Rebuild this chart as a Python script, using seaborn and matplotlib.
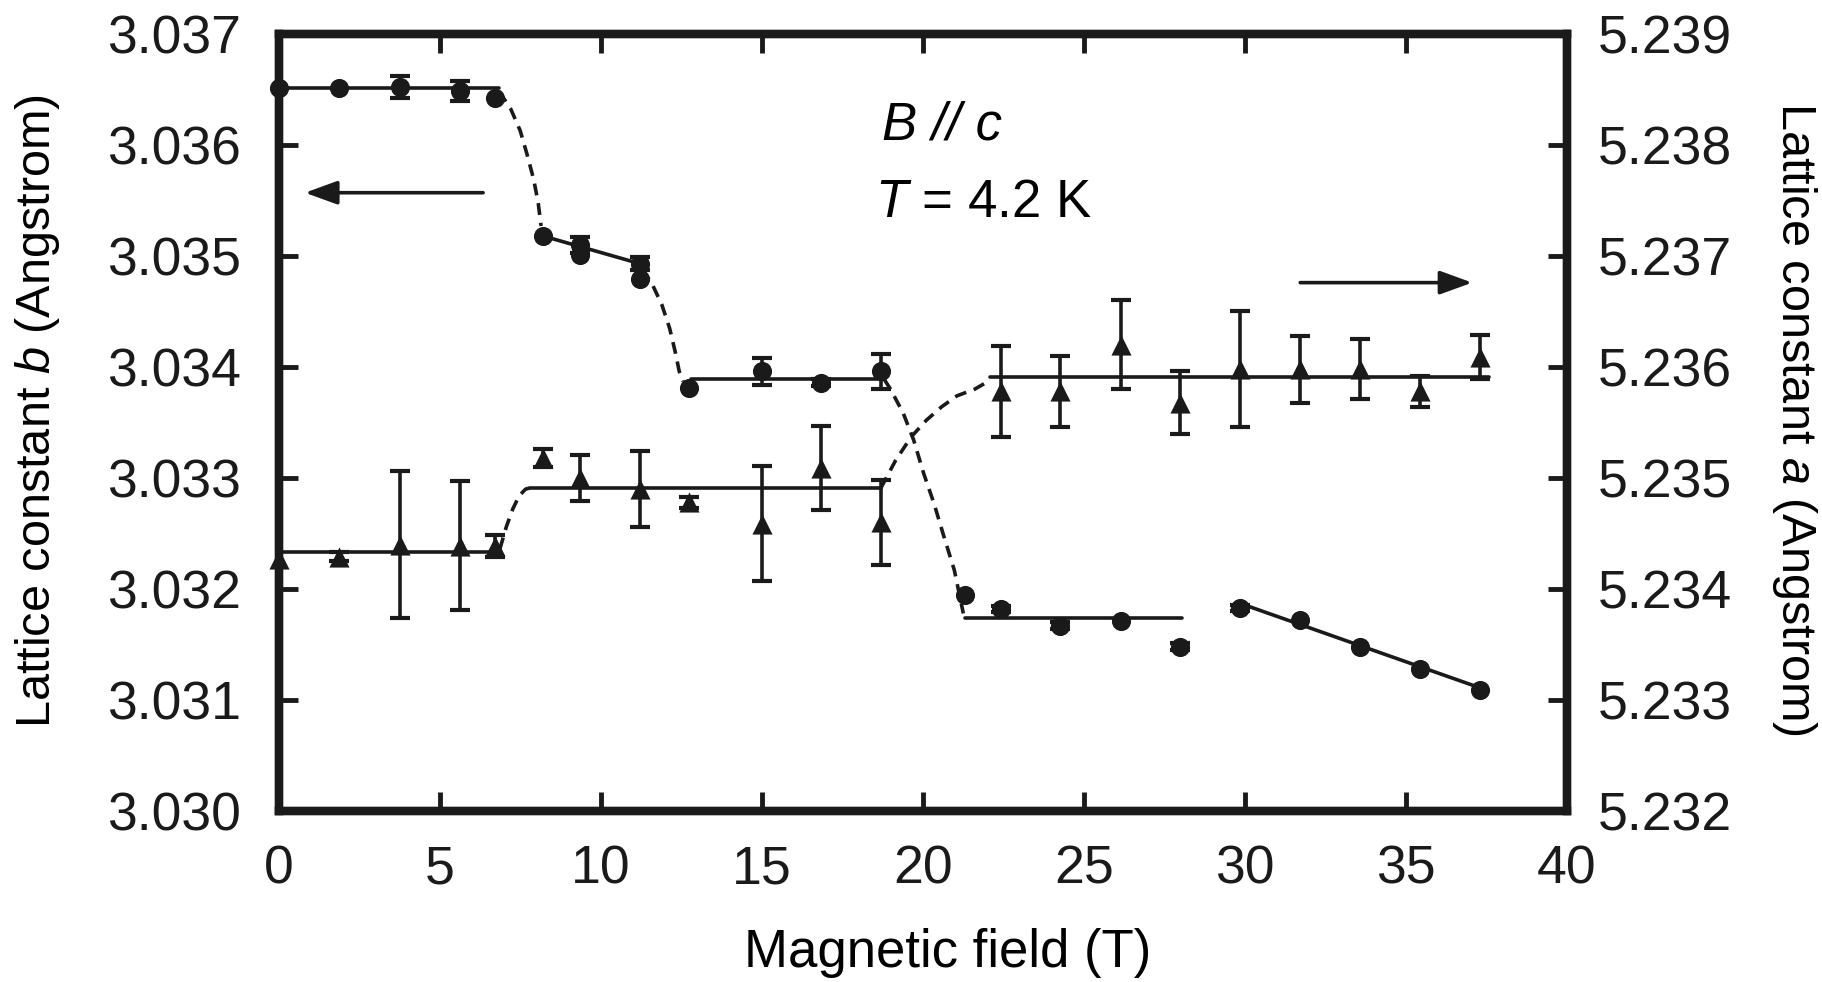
import matplotlib
matplotlib.use("Agg")
import matplotlib.pyplot as plt
from matplotlib.ticker import FormatStrFormatter, MultipleLocator
import seaborn as sns

# ---------------- data ----------------
# lattice constant b (left axis, circles)
field_b = [0, 1.88, 3.76, 5.63, 6.73, 8.21, 9.35, 9.35, 11.23, 11.23, 12.74, 15.0,
           16.85, 18.69, 21.3, 22.43, 24.27, 26.15, 27.98, 29.86, 31.72, 33.59, 35.44, 37.3]
const_b = [3.03651, 3.03651, 3.03652, 3.03649, 3.03642, 3.03518, 3.03510, 3.03501,
           3.03493, 3.03479, 3.03381, 3.03396, 3.03386, 3.03396, 3.03195, 3.03182,
           3.03167, 3.03171, 3.03148, 3.03183, 3.03172, 3.03148, 3.03128, 3.03109]
err_b = [0, 0, 0.00010, 0.00009, 0, 0, 0.00007, 0, 0.00006, 0, 0, 0.00012,
         0.00003, 0.00016, 0, 0.00003, 0.00003, 0, 0.00003, 0.00003, 0, 0, 0, 0]

# lattice constant a (right axis, triangles)
field_a = [0, 1.88, 3.76, 5.63, 6.73, 8.21, 9.35, 11.23, 12.74, 15.0, 16.85, 18.69,
           22.43, 24.27, 26.15, 27.98, 29.86, 31.72, 33.59, 35.44, 37.3]
const_a = [5.23427, 5.23429, 5.23440, 5.23439, 5.23439, 5.23518, 5.23500, 5.23490,
           5.23478, 5.23459, 5.23509, 5.23460, 5.23578, 5.23578, 5.23620, 5.23568,
           5.23598, 5.23598, 5.23598, 5.23578, 5.23609]
err_a = [0, 0.00004, 0.00066, 0.00058, 0.00010, 0.00008, 0.00021, 0.00034, 0.00005,
         0.00052, 0.00038, 0.00038, 0.00041, 0.00032, 0.00040, 0.00028, 0.00052,
         0.00030, 0.00027, 0.00014, 0.00020]

# solid guide lines (b)
b_line1_x, b_line1_y = [0, 6.85], [3.03651, 3.03651]
b_line2_x, b_line2_y = [8.21, 11.23], [3.03518, 3.03493]
b_line3_x, b_line3_y = [12.8, 18.77], [3.03389, 3.03389]
b_line4_x, b_line4_y = [21.3, 28.06], [3.03174, 3.03174]
b_line5_x, b_line5_y = [29.86, 37.3], [3.03187, 3.03111]
# solid guide lines (a)
a_line1_x, a_line1_y = [0, 6.87], [5.23433, 5.23433]
a_line2_x, a_line2_y = [7.8, 18.7], [5.23491, 5.23491]
a_line3_x, a_line3_y = [22.09, 37.57], [5.23591, 5.23591]

# dashed transition guides (b)
b_dash1_x = [6.85, 7.2, 7.5, 7.71, 7.92, 8.06, 8.15]
b_dash1_y = [3.03648, 3.03633, 3.03613, 3.03592, 3.03569, 3.03548, 3.03527]
b_dash2_x = [11.3, 11.61, 11.9, 12.14, 12.32, 12.44, 12.56]
b_dash2_y = [3.03488, 3.03474, 3.03456, 3.03435, 3.03413, 3.03396, 3.03387]
b_dash3_x = [18.8, 19.0, 19.4, 19.72, 20.03, 20.35, 20.66, 20.98, 21.26]
b_dash3_y = [3.03389, 3.03380, 3.03358, 3.03334, 3.03304, 3.03277, 3.03247, 3.03217, 3.03178]
# dashed transition guides (a)
a_dash1_x = [6.87, 7.07, 7.27, 7.47, 7.67, 7.8]
a_dash1_y = [5.23436, 5.23456, 5.23472, 5.23484, 5.23490, 5.23491]
a_dash2_x = [18.7, 19.16, 19.64, 20.11, 20.58, 21.06, 21.61, 22.09]
a_dash2_y = [5.23491, 5.23516, 5.23537, 5.23552, 5.23564, 5.23574, 5.23580, 5.23588]

x_ticks = [0, 5, 10, 15, 20, 25, 30, 35, 40]

# ---------------- styling ----------------
sns.set_theme(style="ticks")
plt.rcParams["font.family"] = ["Liberation Sans", "DejaVu Sans"]
plt.rcParams["mathtext.fontset"] = "custom"
plt.rcParams["mathtext.rm"] = "Liberation Sans"
plt.rcParams["mathtext.it"] = "Liberation Sans:italic"
for key in ("text.color", "axes.labelcolor", "xtick.color", "ytick.color", "axes.edgecolor"):
    plt.rcParams[key] = "black"

TICK_FS = 38.5
LABEL_FS = 38
LW_SPINE = 6
LW_LINE = 2.6
DASH = (0, (3.3, 2.2))

fig = plt.figure(figsize=(18.22, 9.82), dpi=100)
ax = fig.add_axes([0.1529, 0.1741, 0.7071, 0.7913])
ax2 = ax.twinx()

# solid fit lines
for xs, ys in [(b_line1_x, b_line1_y), (b_line2_x, b_line2_y), (b_line3_x, b_line3_y),
               (b_line4_x, b_line4_y), (b_line5_x, b_line5_y)]:
    sns.lineplot(x=xs, y=ys, ax=ax, color="k", linewidth=LW_LINE, sort=False)
for xs, ys in [(a_line1_x, a_line1_y), (a_line2_x, a_line2_y), (a_line3_x, a_line3_y)]:
    sns.lineplot(x=xs, y=ys, ax=ax2, color="k", linewidth=LW_LINE, sort=False)

# dashed transition curves
for xs, ys in [(b_dash1_x, b_dash1_y), (b_dash2_x, b_dash2_y), (b_dash3_x, b_dash3_y)]:
    sns.lineplot(x=xs, y=ys, ax=ax, color="k", linewidth=LW_LINE, linestyle=DASH, sort=False)
for xs, ys in [(a_dash1_x, a_dash1_y), (a_dash2_x, a_dash2_y)]:
    sns.lineplot(x=xs, y=ys, ax=ax2, color="k", linewidth=LW_LINE, linestyle=DASH, sort=False)

# error bars
eb_x = [x for x, e in zip(field_b, err_b) if e > 0]
eb_y = [y for y, e in zip(const_b, err_b) if e > 0]
eb_e = [e for e in err_b if e > 0]
ax.errorbar(eb_x, eb_y, yerr=eb_e, fmt="none", ecolor="k", elinewidth=LW_LINE,
            capsize=7, capthick=LW_LINE + 0.4, zorder=3)
ea_x = [x for x, e in zip(field_a, err_a) if e > 0]
ea_y = [y for y, e in zip(const_a, err_a) if e > 0]
ea_e = [e for e in err_a if e > 0]
ax2.errorbar(ea_x, ea_y, yerr=ea_e, fmt="none", ecolor="k", elinewidth=LW_LINE,
             capsize=7, capthick=LW_LINE + 0.4, zorder=3)

# markers
sns.scatterplot(x=field_b, y=const_b, ax=ax, marker="o", s=190, color="k",
                edgecolor="k", linewidth=0, zorder=4, clip_on=False)
sns.scatterplot(x=field_a, y=const_a, ax=ax2, marker="^", s=210, color="k",
                edgecolor="k", linewidth=0, zorder=4, clip_on=False)

# axes limits / ticks
ax.set_xlim(0, 40)
ax.set_ylim(3.030, 3.037)
ax2.set_ylim(5.232, 5.239)
ax.set_xticks(x_ticks)
ax.yaxis.set_major_locator(MultipleLocator(0.001))
ax2.yaxis.set_major_locator(MultipleLocator(0.001))
ax.yaxis.set_major_formatter(FormatStrFormatter("%.3f"))
ax2.yaxis.set_major_formatter(FormatStrFormatter("%.3f"))

for a_ in (ax, ax2):
    for sp in a_.spines.values():
        sp.set_linewidth(LW_SPINE)
        sp.set_color("k")
ax.tick_params(axis="x", which="major", direction="in", top=True, bottom=True,
               length=14, width=3.5, labelsize=TICK_FS, pad=24, colors="k")
ax.tick_params(axis="y", which="major", direction="in", left=True, right=False,
               length=14, width=3.5, labelsize=TICK_FS, pad=27, colors="k")
ax2.tick_params(axis="y", which="major", direction="in", right=True, left=False,
                length=14, width=3.5, labelsize=TICK_FS, pad=22, colors="k")

ax.set_xlabel("Magnetic field (T)", fontsize=LABEL_FS)
ax.xaxis.set_label_coords(0.519, -0.15)
ax.set_ylabel(r"Lattice constant $b$ (Angstrom)", fontsize=LABEL_FS - 3)
ax.yaxis.set_label_coords(-0.168, 0.515)
ax2.set_ylabel(r"Lattice constant $a$ (Angstrom)", fontsize=LABEL_FS - 3, rotation=270,
               va="bottom")
ax2.yaxis.set_label_coords(1.158, 0.505)

# annotations
ax.text(18.73, 3.03618, "B // c", fontsize=38, style="italic", va="center", ha="left")
ax.text(18.52, 3.03548, r"$T$ = 4.2 K", fontsize=38, va="center", ha="left")
ax.annotate("", xy=(0.82, 3.03557), xytext=(6.35, 3.03557),
            arrowprops=dict(arrowstyle="-|>,head_length=0.55,head_width=0.2",
                            lw=LW_LINE, color="k", mutation_scale=36, shrinkA=0, shrinkB=0))
ax.annotate("", xy=(37.06, 3.03476), xytext=(31.72, 3.03476),
            arrowprops=dict(arrowstyle="-|>,head_length=0.55,head_width=0.2",
                            lw=LW_LINE, color="k", mutation_scale=36, shrinkA=0, shrinkB=0))

fig.savefig("out.png", dpi=100)
